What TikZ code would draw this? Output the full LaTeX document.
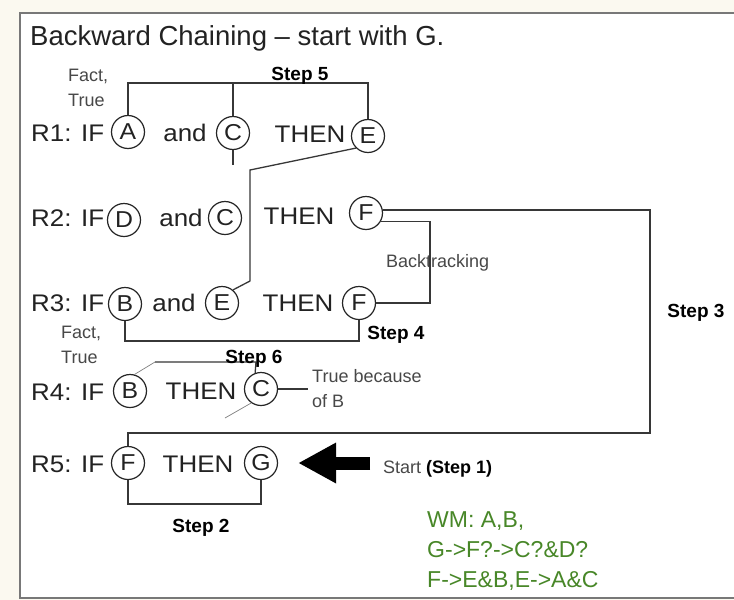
\documentclass[tikz,border=0pt]{standalone}
\usepackage{fontspec}
\setmainfont{Liberation Sans}
\newfontfamily\largefont[FakeStretch=1.08]{Liberation Sans}
\usetikzlibrary{arrows.meta}
\definecolor{textgris}{RGB}{34,34,34}
\definecolor{notegris}{RGB}{72,72,72}
\definecolor{traitgris}{RGB}{55,55,55}
\definecolor{vertwm}{RGB}{72,135,40}
\definecolor{fond}{RGB}{251,249,240}
\definecolor{cadre}{RGB}{120,120,120}

\tikzset{
	regle/.style={inner sep=0pt, text=textgris, font=\largefont\fontsize{24}{24}\selectfont},
	fait/.style={circle, draw=black!85, line width=1.2pt, minimum size=33pt, inner sep=0pt, text=textgris, font=\largefont\fontsize{23}{23}\selectfont},
	etape/.style={inner sep=0pt, font=\bfseries\fontsize{19}{19}\selectfont},
	remarque/.style={inner sep=0pt, align=left, text=notegris, font=\fontsize{18}{25}\selectfont},
	lien/.style={draw=traitgris, line width=1.3pt},
	lienfin/.style={draw=gray, line width=0.7pt},
}

\begin{document}
\begin{tikzpicture}[x=1pt, y=-1pt]
	% Cadre
	\useasboundingbox (0,0) rectangle (734,600);
	\fill[fond] (0,0) rectangle (734,600);
	\fill[white] (20,13) rectangle (734,598);
	\draw[cadre, line width=1.6pt] (734,13) -- (20,13) -- (20,598) -- (734,598);
	
	% Titre
	\node[regle, anchor=base west, font=\fontsize{27.5}{27.5}\selectfont] (titre) at (30,45) {Backward Chaining – start with G.};
	
	% Regles
	\foreach \i/\y in {1/133,2/218,3/303,4/392,5/464} {
		\node[regle, anchor=west] (r\i) at (31,\y) {R\i: IF};
	}
	\node[fait] (a1) at (128,132) {A};
	\node[regle] (et1) at (185,133) {and};
	\node[fait] (c1) at (233,133) {C};
	\node[regle] (alors1) at (310,134) {THEN};
	\node[fait] (e1) at (368,136) {E};
	
	\node[fait] (d2) at (124,220) {D};
	\node[regle] (et2) at (181,218) {and};
	\node[fait] (c2) at (225,218) {C};
	\node[regle] (alors2) at (299,216) {THEN};
	\node[fait] (f2) at (366,213) {F};
	
	\node[fait] (b3) at (125,304) {B};
	\node[regle] (et3) at (174,303) {and};
	\node[fait] (e3) at (222,303) {E};
	\node[regle] (alors3) at (298,303) {THEN};
	\node[fait] (f3) at (359,303) {F};
	
	\node[fait] (b4) at (130,391) {B};
	\node[regle] (alors4) at (201,391) {THEN};
	\node[fait] (c4) at (261,389) {C};
	
	\node[fait] (f5) at (128,463) {F};
	\node[regle] (alors5) at (198,464) {THEN};
	\node[fait] (g5) at (261,463) {G};
	
	% Remarques
	\node[remarque, anchor=west] (fait1) at (68,88) {Fact,\\True};
	\node[remarque, anchor=west] (fait3) at (61,345) {Fact,\\True};
	\node[remarque, anchor=base west] (retour) at (386,267) {Backtracking};
	\node[remarque, anchor=west, inner xsep=4pt] (note) at (308,389) {True because\\of B};
	\node[remarque, anchor=base west] (depart) at (383,473) {Start {\color{black}\bfseries(Step 1)}};
	
	% Liaisons
	\coordinate (haut5) at (233,83);
	\draw[lien] (a1.north) |- (haut5) -| (e1.north);
	\draw[lien] (haut5) -- (c1.north);
	\coordinate (queue1) at (233,165);
	\draw[lien] (c1.south) -- (queue1);
	
	\coordinate (coude1) at (250,170);
	\coordinate (coude2) at (250,281);
	\draw[lien] (e1.225) -- (coude1) -- (coude2) -- (e3.50);
	
	\coordinate (coin3) at (650,433);
	\draw[lien] (f2.10) -| (coin3) -| (f5.north);
	
	\coordinate (retour1) at (430,260);
	\draw[lien] (f2.-30) -| (retour1) |- (f3.east);
	
	\coordinate (bas4) at (125,341);
	\draw[lien] (b3.south) -- (bas4) -| (f3.south);
	
	\coordinate (haut6a) at (155,362);
	\coordinate (haut6b) at (256,362);
	\draw[lienfin] (b4.75) -- (haut6a);
	\draw[lien] (haut6a) -- (haut6b) -- (c4.110);
	\draw[lien] (c4.east) -- (note.west);
	\coordinate (queue4) at (225,418);
	\draw[lienfin] (c4.235) -- (queue4);
	
	\coordinate (bas2) at (190,504);
	\draw[lien] (f5.south) |- (bas2) -| (g5.south);
	
	% Fleche de depart
	\coordinate (fleche) at (370,463);
	\draw[line width=13pt, -{Triangle[length=38pt, width=38pt]}] (fleche) -- ([xshift=20pt]g5.east);
	
	% Etapes
	\node[etape, anchor=base] (lab5) at (300,80) {Step 5};
	\node[etape, anchor=base] (lab4) at (396,339) {Step 4};
	\node[etape, anchor=base] (lab3) at (696,317) {Step 3};
	\node[etape, anchor=base] (lab6) at (254,363) {Step 6};
	\node[etape, anchor=base] (lab2) at (201,532) {Step 2};
	
	% Memoire de travail
	\node[anchor=west, inner sep=0pt, align=left, text=vertwm, font=\fontsize{23}{30}\selectfont] (wm) at (427,551) {WM: A,B,\\G->F?->C?\&D?\\F->E\&B,E->A\&C};
\end{tikzpicture}
\end{document}
